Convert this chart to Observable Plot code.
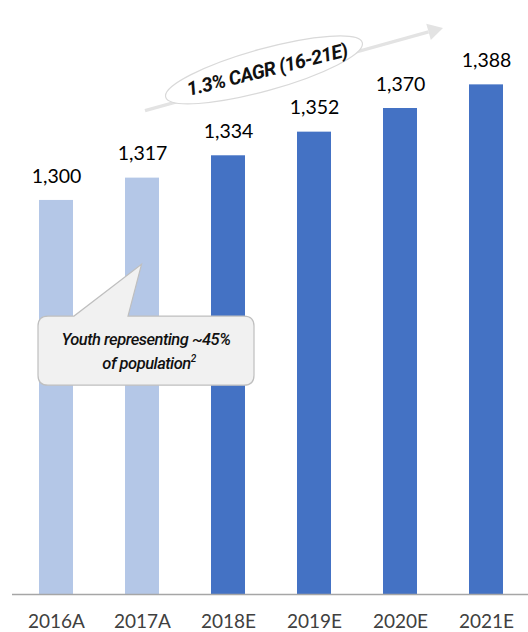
<!DOCTYPE html>
<html>
<head>
<meta charset="utf-8">
<script src="https://cdn.jsdelivr.net/npm/d3@7"></script>
<script src="https://cdn.jsdelivr.net/npm/@observablehq/plot@0.6"></script>
<style>
  html, body { margin: 0; padding: 0; background: #fff; }
  #chart svg { display: block; overflow: visible; }
</style>
</head>
<body>
<div id="chart"></div>
<script>
// ---- data ----
const years = ["2016A", "2017A", "2018E", "2019E", "2020E", "2021E"];
const population = [1300, 1317, 1334, 1352, 1370, 1388];
const kinds = ["Actual", "Actual", "Estimate", "Estimate", "Estimate", "Estimate"];
const kindColors = ["#b4c7e7", "#4472c4"];
const cagrLabel = "1.3% CAGR (16-21E)";
const calloutLines = ["Youth representing ~45%", "of population"];
const calloutNote = "2";

const data = years.map((y, i) => ({year: years[i], value: population[i], kind: kinds[i]}));

(function () {
const W = 528, H = 632;
const plot = Plot.plot({
  width: W,
  height: H,
  marginLeft: 12,
  marginRight: -3,
  marginTop: 20,
  marginBottom: 38,
  style: {fontFamily: "Lato, 'Open Sans', sans-serif", background: "#fff", overflow: "visible"},
  x: {domain: years, paddingInner: 0.6, paddingOuter: 0.3, label: null},
  y: {domain: [1000, 1437], axis: null},
  color: {domain: ["Actual", "Estimate"], range: kindColors, type: "ordinal"},
  marks: [
    Plot.barY(data, {x: "year", y1: 1000, y2: "value", fill: "kind"}),
    Plot.ruleY([1000], {stroke: "#a6a6a6", strokeWidth: 1.3}),
    Plot.text(data, {x: "year", y: "value", text: d => d3.format(",")(d.value), dy: -24,
      fontSize: 19.5, fill: "#000"}),
    Plot.axisX({tickSize: 0, tickPadding: 20, fontSize: 19, color: "#404040", label: null})
  ]
});
document.getElementById("chart").appendChild(plot);

// ---- annotations, positioned through the plot's scales ----
const sx = plot.scale("x"), sy = plot.scale("y");
const bw = sx.bandwidth, step = sx.step;
const xc = c => sx.apply(c) + bw / 2;
const Y = v => sy.apply(v);
const svg = d3.select(plot);
const g = svg.append("g");

// CAGR arrow
const ax1 = xc("2017A") + 3, ay1 = Y(1368);
const ax2 = xc("2020E") + step / 2, ay2 = Y(1431);
const ang = Math.atan2(ay2 - ay1, ax2 - ax1);
const headLen = 15, headW = 8.5;
const bx = ax2 - headLen * Math.cos(ang), by = ay2 - headLen * Math.sin(ang);
g.append("line").attr("x1", ax1).attr("y1", ay1).attr("x2", bx).attr("y2", by)
  .attr("stroke", "#e3e3e3").attr("stroke-width", 3.2);
g.append("path")
  .attr("d", `M${ax2},${ay2} L${bx + headW * Math.sin(ang)},${by - headW * Math.cos(ang)} L${bx - headW * Math.sin(ang)},${by + headW * Math.cos(ang)} Z`)
  .attr("fill", "#e3e3e3");

// ellipse with CAGR label
const ex = xc("2018E") + 36, ey = Y(1399);
g.append("ellipse").attr("cx", ex).attr("cy", ey).attr("rx", 102).attr("ry", 21)
  .attr("transform", `rotate(-15.5 ${ex} ${ey})`)
  .attr("fill", "#fff").attr("stroke", "#d9d9d9").attr("stroke-width", 1.2);
g.append("text").attr("x", ex + 3).attr("y", ey + 2)
  .attr("transform", `rotate(-14 ${ex} ${ey})`)
  .attr("text-anchor", "middle").attr("dominant-baseline", "middle")
  .attr("font-family", "Roboto, 'Open Sans', sans-serif").attr("font-style", "italic").attr("font-weight", 700)
  .attr("font-size", 19.5).attr("letter-spacing", -0.6).attr("fill", "#111").text(cagrLabel);

// speech-bubble callout
const bLeft = xc("2016A") - 18, bRight = xc("2018E") + 26;
const bTop = Y(1211.6), bBottom = Y(1159);
const tipX = xc("2017A") - 0.5, tipY = Y(1251);
const b1 = xc("2016A") + 18, b2 = xc("2017A") - 14;
const r = 10;
g.append("path")
  .attr("d", `M${bLeft + r},${bTop} L${b1},${bTop} L${tipX},${tipY} L${b2},${bTop} L${bRight - r},${bTop}
    Q${bRight},${bTop} ${bRight},${bTop + r} L${bRight},${bBottom - r} Q${bRight},${bBottom} ${bRight - r},${bBottom}
    L${bLeft + r},${bBottom} Q${bLeft},${bBottom} ${bLeft},${bBottom - r} L${bLeft},${bTop + r} Q${bLeft},${bTop} ${bLeft + r},${bTop} Z`)
  .attr("fill", "#f1f1f1").attr("stroke", "#bfbfbf").attr("stroke-width", 1.2);
const cx = (bLeft + bRight) / 2;
g.append("text").attr("x", cx).attr("y", bTop + 29).attr("text-anchor", "middle")
  .attr("font-family", "Roboto, sans-serif").attr("font-style", "italic").attr("font-weight", 500)
  .attr("font-size", 16.5).attr("letter-spacing", -0.5)
  .attr("fill", "#111").text(calloutLines[0]);
const t2 = g.append("text").attr("x", cx + 3).attr("y", bTop + 53).attr("text-anchor", "middle")
  .attr("font-family", "Roboto, sans-serif").attr("font-style", "italic").attr("font-weight", 500)
  .attr("font-size", 16.5).attr("letter-spacing", -0.5)
  .attr("fill", "#111");
t2.append("tspan").text(calloutLines[1]);
t2.append("tspan").attr("font-size", 10).attr("dy", -7).text(calloutNote);
})();
</script>
</body>
</html>
